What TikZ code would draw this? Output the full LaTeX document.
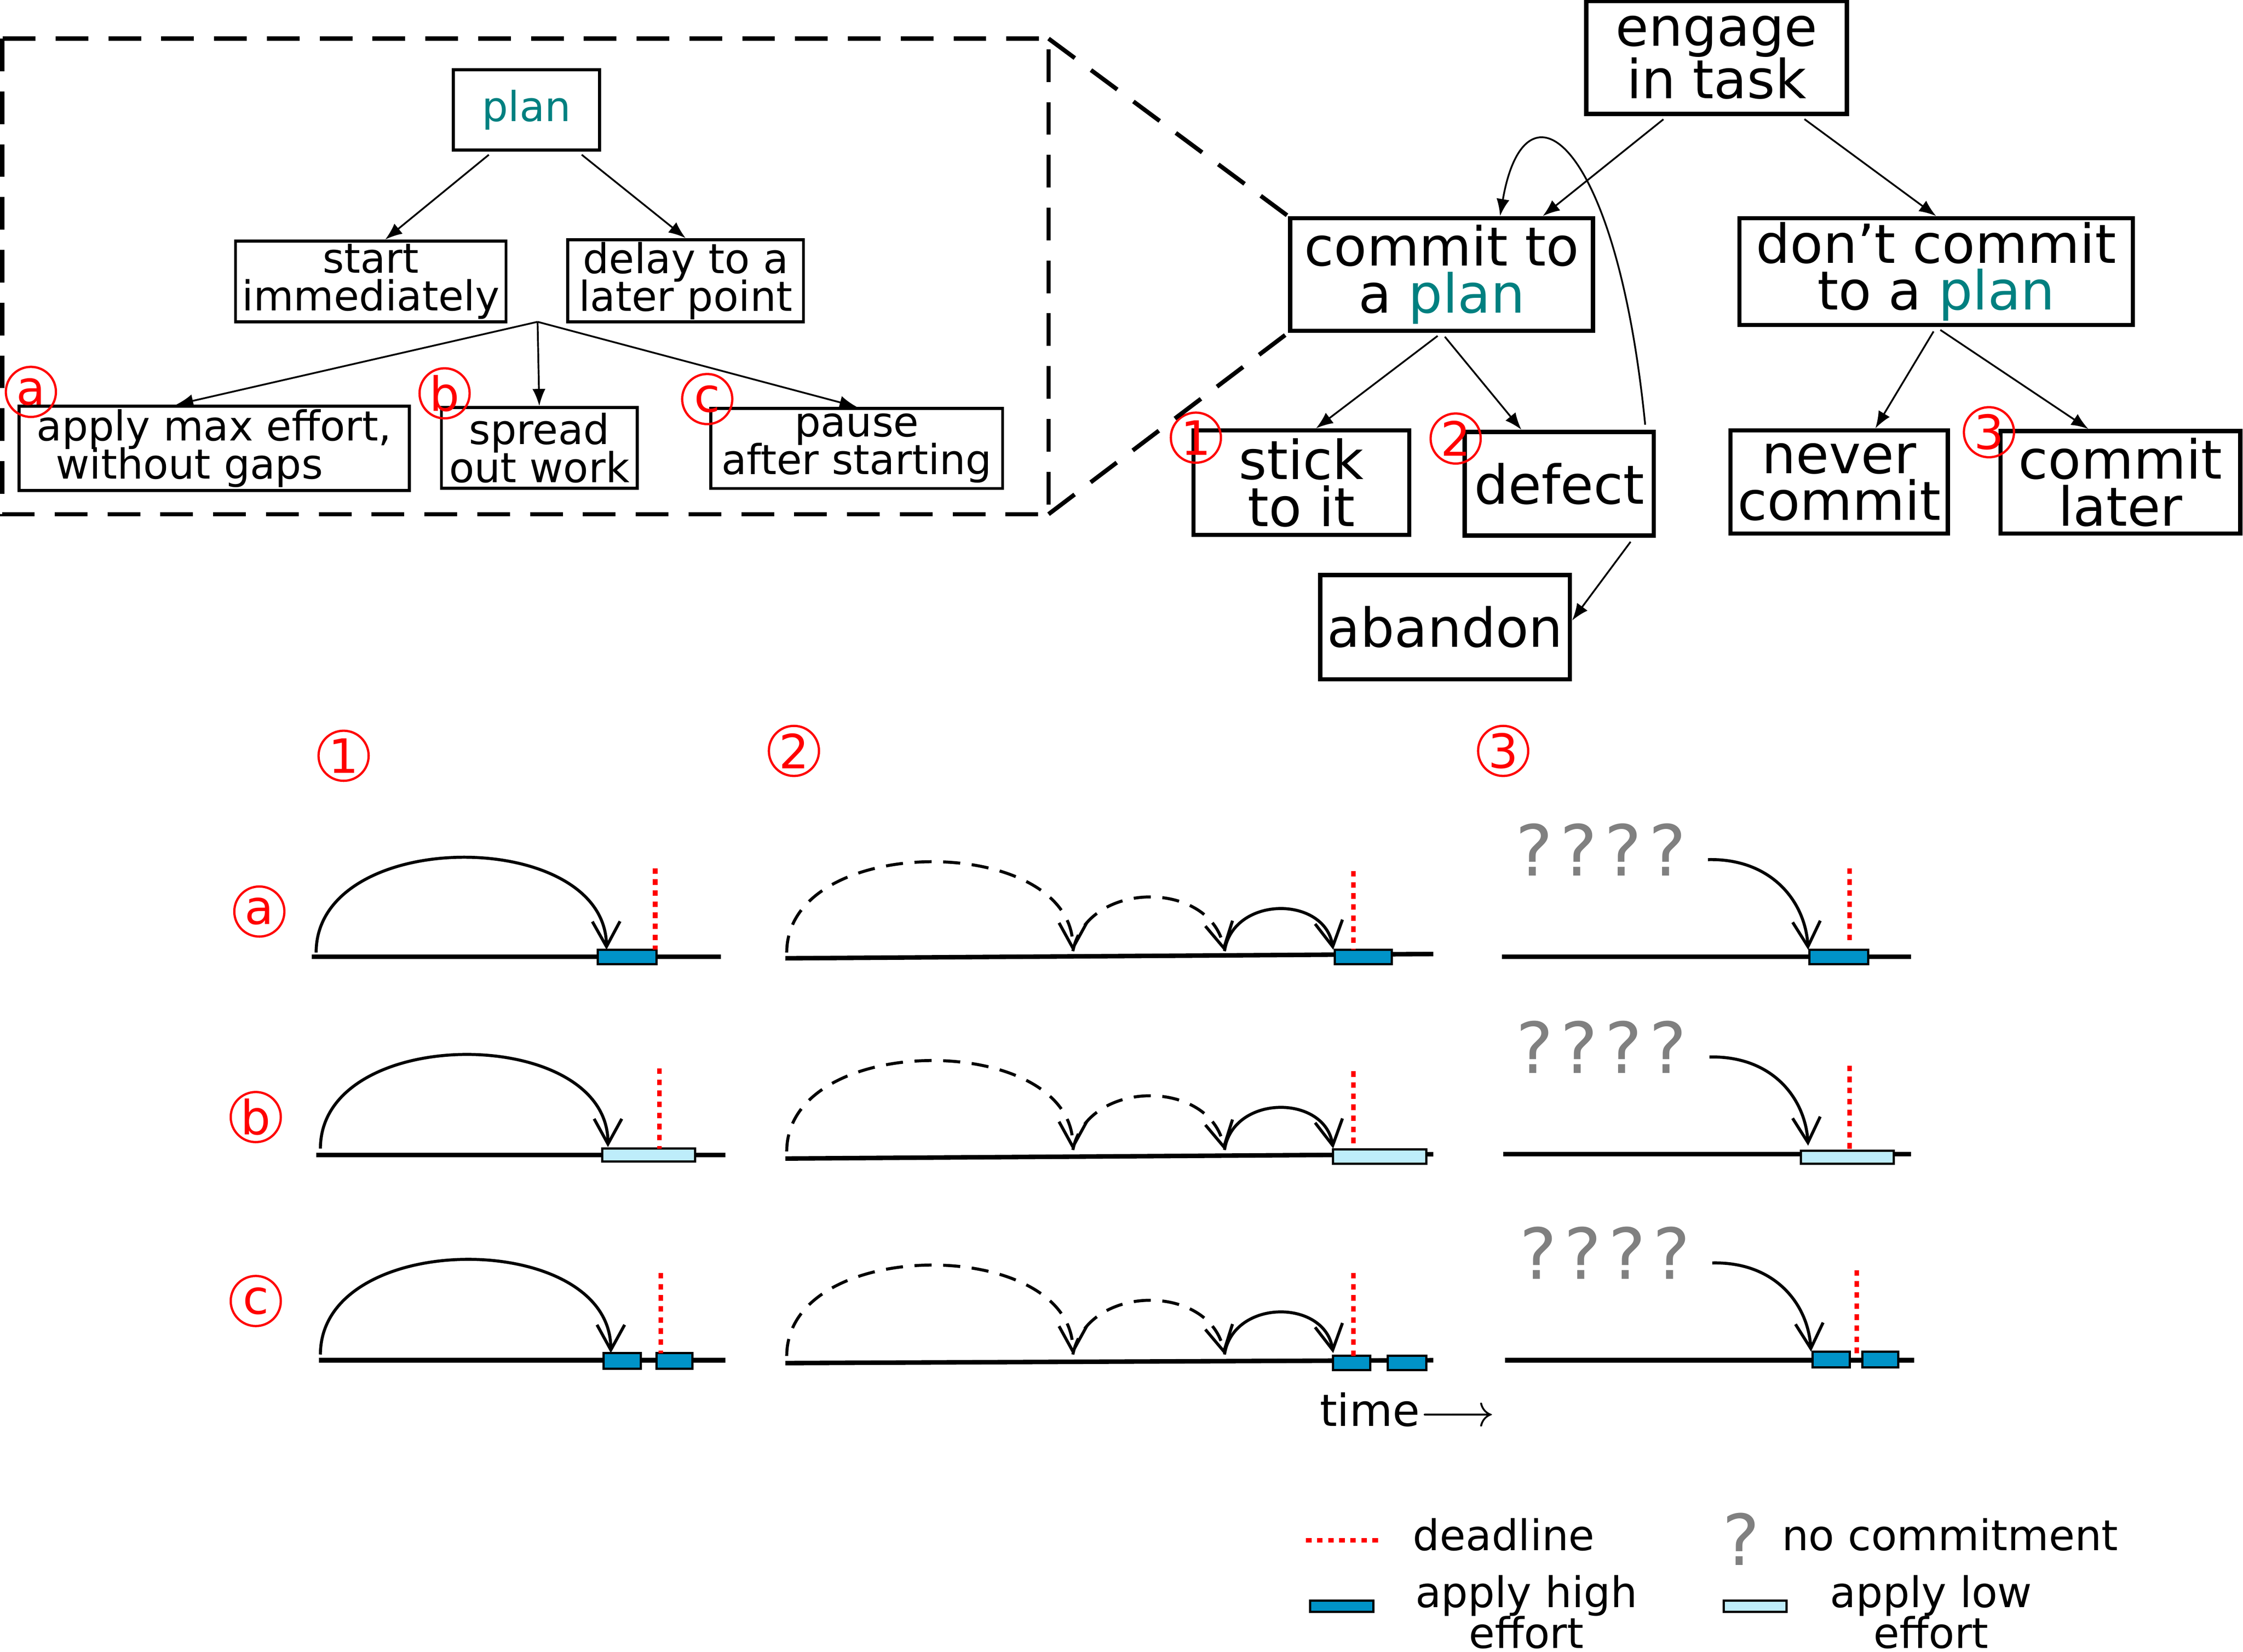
\documentclass[tikz,border=0pt]{standalone}
\usepackage{fontspec}
\setmainfont{DejaVu Sans}
\usepackage{xcolor}
\usepackage{tikz}
\usetikzlibrary{arrows.meta,calc}
\definecolor{plancol}{RGB}{0,128,128}
\definecolor{highcol}{RGB}{0,147,200}
\definecolor{lowcol}{RGB}{190,237,250}
\lineskiplimit=-20pt

\begin{document}
\begin{tikzpicture}[x=0.01cm, y=-0.01cm, >={Latex[length=3.4pt,width=2.6pt]},
    box/.style={draw, line width=0.85pt, inner sep=0pt, align=center, font=\fontsize{10.7}{9.3}\selectfont},
    smallbox/.style={draw, line width=0.6pt, inner sep=0pt, align=center, font=\fontsize{8.2}{7.5}\selectfont},
    num/.style={circle, draw=red, text=red, line width=0.45pt, inner sep=0pt, minimum size=0.35cm, font=\fontsize{9.4}{9.4}\selectfont},
    link/.style={->, line width=0.35pt, shorten <=1pt},
    zoomline/.style={line width=0.85pt, dash pattern=on 6.5pt off 4pt},
    axis/.style={line width=0.9pt},
    hop/.style={-{Straight Barb[length=5pt,width=5.5pt]}, line width=0.6pt},
    hopdash/.style={hop, dash pattern=on 3.4pt off 2.3pt},
    high/.style={draw, fill=highcol, line width=0.45pt},
    low/.style={draw, fill=lowcol, line width=0.45pt},
    due/.style={red, line width=0.9pt, dash pattern=on 1.1pt off 1.1pt},
    nocom/.style={gray, inner sep=0pt, font=\fontsize{14}{14}\selectfont},
    legend/.style={inner sep=0pt, align=center, font=\fontsize{8.4}{8.1}\selectfont}]
    \useasboundingbox (0,0) rectangle (1568,1155);

    % zoomed-in plan
    \draw[zoomline] (1.5,27) rectangle (733,359.5);
    \node[smallbox, minimum width=1.02cm, minimum height=0.56cm] (plan) at (368,76.9) {\textcolor{plancol}{plan}};
    \node[smallbox, minimum width=1.89cm, minimum height=0.565cm] (start) at (259.2,196.8) {start\\immediately};
    \node[smallbox, minimum width=1.646cm, minimum height=0.575cm] (delay) at (479.3,196.3) {delay to a\\later point};
    \node[smallbox, minimum width=2.726cm, minimum height=0.59cm] (apply) at (149.7,313.5) {apply max effort,\\without gaps\hspace*{1.2em}};
    \node[smallbox, minimum width=1.368cm, minimum height=0.565cm] (spread) at (377,313.2) {spread\\out work};
    \node[smallbox, minimum width=2.038cm, minimum height=0.56cm] (pause) at (598.9,313.5) {pause\\after starting};
    \coordinate (fork) at (375.8,225);
    \draw[link] (plan.-129.7) -- (start.71.2);
    \draw[link] (plan.-39.7) -- (delay.north);
    \draw[link, shorten <=0pt] (fork) -- (apply.131.3);
    \draw[link, shorten <=0pt] (fork) -- (spread.north);
    \draw[link, shorten <=0pt] (fork) -- (pause.north);
    \node[num] (na) at (21.6,274) {a};
    \node[num] (nb) at (310.8,275) {b};
    \node[num] (nc) at (494.4,279) {c};

    % decision tree
    \node[box, minimum width=1.82cm, minimum height=0.79cm, font=\fontsize{10.7}{10.5}\selectfont] (engage) at (1200,40.2) {engage\\in task};
    \node[box, minimum width=2.116cm, minimum height=0.786cm] (commit) at (1007.8,191.9) {commit to\\a \textcolor{plancol}{plan}};
    \node[box, minimum width=2.75cm, minimum height=0.746cm] (dont) at (1353.5,189.9) {don’t commit\\to a \textcolor{plancol}{plan}};
    \node[box, minimum width=1.508cm, minimum height=0.73cm] (stick) at (909.8,337.5) {stick\\to it};
    \node[box, minimum width=1.32cm, minimum height=0.725cm] (defect) at (1090,338.2) {defect};
    \node[box, minimum width=1.518cm, minimum height=0.72cm] (never) at (1285.7,337) {never\\commit};
    \node[box, minimum width=1.674cm, minimum height=0.715cm] (later) at (1482.3,337.2) {commit\\later};
    \node[box, minimum width=1.745cm, minimum height=0.73cm] (abandon) at (1010.2,438.5) {abandon};
    \draw[link] (engage.-130) -- (commit.30.5);
    \draw[link] (engage.-35.5) -- (dont.north);
    \draw[link] (commit.south) -- (stick.75);
    \draw[link] (commit.south) -- (defect.125.7);
    \draw[link] (dont.south) -- (never.56.4);
    \draw[link] (dont.south) -- (later.121.5);
    \draw[link] (defect.-36.1) -- (abandon.3.7);
    \draw[link] (defect.32.2) .. controls (1130,96) and (1066,50) .. (commit.45.8);
    \node[num] (n1) at (836,306) {1};
    \node[num] (n2) at (1017.6,306.6) {2};
    \node[num] (n3) at (1390.4,302.2) {3};
    \draw[zoomline] (733,27) -- (commit.north west);
    \draw[zoomline] (733,359.5) -- (commit.south west);

    % time lines
    \node[num] (t1) at (240.2,528.4) {1};
    \node[num] (t2) at (555,525) {2};
    \node[num] (t3) at (1050.8,525) {3};
    \node[num] (ra) at (181.3,637.3) {a};
    \node[num] (rb) at (178.8,781) {b};
    \node[num] (rc) at (178.8,909.6) {c};

    % row a
    \draw[axis] (218,669) -- (504,669);
    \draw[hop] (221,666) .. controls (221,578) and (423,578) .. (424,664);
    \draw[high] (418,664) rectangle (459,674);
    \draw[due] (458,607) -- (458,664);
    \draw[axis] (549,670) -- (1002,667);
    \draw[hopdash] (550,666) .. controls (550,582) and (750,582) .. (750,665);
    \draw[hopdash] (750,665) .. controls (760,615) and (846,615) .. (856,665);
    \draw[hop] (856,665) .. controls (862,626) and (926,626) .. (932,664);
    \draw[high] (933,664) rectangle (973,674);
    \draw[due] (946,609) -- (946,664);
    \draw[axis] (1050,669) -- (1336,669);
    \node[nocom] (qa) at (1119,594) {?\kern.1em?\kern.1em?\kern.1em?};
    \draw[hop] (1194,601) .. controls (1238,600) and (1262,630) .. (1264,664);
    \draw[high] (1265,664) rectangle (1306,674);
    \draw[due] (1293,607) -- (1293,660);

    % row b
    \draw[axis] (221,807.5) -- (507,807.5);
    \draw[hop] (224,803) .. controls (224,716) and (425,716) .. (425,802);
    \draw[low] (421,803) rectangle (486,812);
    \draw[due] (461,747) -- (461,803);
    \draw[axis] (549,810) -- (1002,807);
    \draw[hopdash] (550,805) .. controls (550,721) and (750,721) .. (750,804);
    \draw[hopdash] (750,804) .. controls (760,754) and (846,754) .. (856,804);
    \draw[hop] (856,804) .. controls (862,765) and (926,765) .. (932,803);
    \draw[low] (932,803.5) rectangle (997,813.5);
    \draw[due] (946,749) -- (946,803);
    \draw[axis] (1051,807) -- (1336,807);
    \node[nocom] (qb) at (1119.5,732) {?\kern.1em?\kern.1em?\kern.1em?};
    \draw[hop] (1195,739) .. controls (1239,738) and (1262,768) .. (1264,801);
    \draw[low] (1259,804.5) rectangle (1324,813.5);
    \draw[due] (1293,745) -- (1293,803);

    % row c
    \draw[axis] (223,951) -- (507,951);
    \draw[hop] (224,947) .. controls (224,859) and (427,859) .. (427,946);
    \draw[high] (422,946) rectangle (448,957);
    \draw[high] (459,946) rectangle (484,957);
    \draw[due] (462,890) -- (462,946);
    \draw[axis] (549,953) -- (1002,951);
    \draw[hopdash] (550,948) .. controls (550,864) and (750,864) .. (750,947);
    \draw[hopdash] (750,947) .. controls (760,897) and (846,897) .. (856,947);
    \draw[hop] (856,947) .. controls (862,908) and (926,908) .. (932,946);
    \draw[high] (932,948) rectangle (958,958);
    \draw[high] (970,948) rectangle (997,958);
    \draw[due] (946,890) -- (946,948);
    \draw[axis] (1052,951) -- (1338,951);
    \node[nocom] (qc) at (1122,876) {?\kern.1em?\kern.1em?\kern.1em?};
    \draw[hop] (1197,883) .. controls (1241,882) and (1264,912) .. (1266,945);
    \draw[high] (1267,945) rectangle (1293,956);
    \draw[high] (1302,945) rectangle (1327,956);
    \draw[due] (1298,888) -- (1298,948);

    \node[anchor=base west, inner sep=0pt, font=\fontsize{8.8}{8.8}\selectfont] (time) at (922,997) {time$\longrightarrow$};

    % legend
    \draw[due] (913,1077) -- (965,1077);
    \node[legend, anchor=west] (ldue) at (987,1073) {deadline};
    \node[nocom] (lq) at (1217,1076) {?};
    \node[legend, anchor=west] (lnocom) at (1245,1073) {no commitment};
    \draw[high] (916,1119) rectangle (960,1127);
    \node[legend] (lhigh) at (1067,1127) {apply high\\effort};
    \draw[low] (1205,1119) rectangle (1249,1127);
    \node[legend] (llow) at (1350,1127) {apply low\\effort};
\end{tikzpicture}
\end{document}
